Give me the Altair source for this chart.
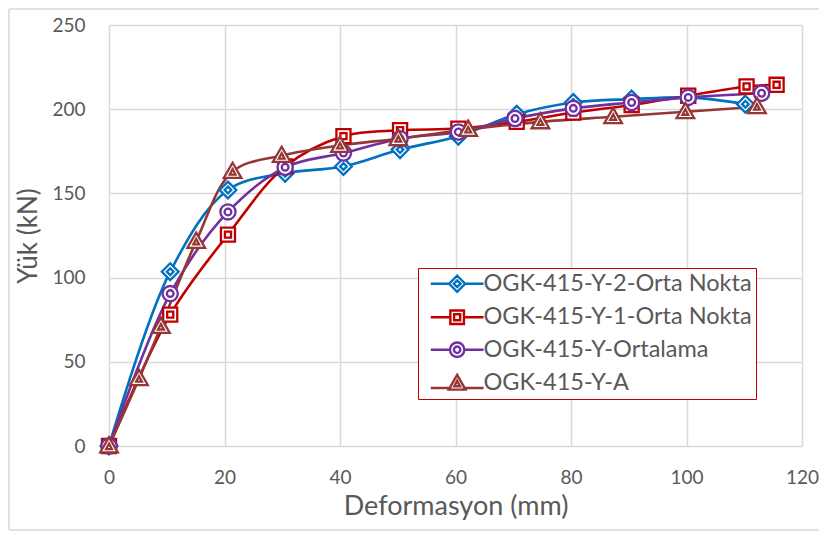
import altair as alt
import pandas as pd

# ---- data ----
series_names = ["OGK-415-Y-2-Orta Nokta", "OGK-415-Y-1-Orta Nokta",
                "OGK-415-Y-Ortalama", "OGK-415-Y-A"]
colors = ["#0070C0", "#C00000", "#7030A0", "#953735"]

blue_x = [0, 10.6, 20.6, 30.5, 40.6, 50.4, 60.5, 70.6, 80.4, 90.5, 100.3, 110.2]
blue_y = [0, 103.5, 152, 162, 166, 176, 184, 197, 204, 206, 207, 203]

red_x = [0, 10.6, 20.6, 30.5, 40.6, 50.4, 60.5, 70.6, 80.4, 90.5, 100.3, 110.4, 115.6]
red_y = [0, 78, 125.5, 166, 184, 187.5, 188.5, 192.5, 198, 202.5, 208, 213.5, 214.5]

purple_x = [0, 10.6, 20.6, 30.5, 40.6, 50.4, 60.5, 70.3, 80.4, 90.5, 100.3, 113.0]
purple_y = [0, 90.5, 139, 165.5, 174, 182.5, 186.5, 194.5, 200.5, 204, 207, 209.5]

brown_x = [0, 5.2, 9.0, 15.1, 21.4, 29.9, 40.0, 50.1, 62.2, 74.7, 87.3, 99.8, 112.2]
brown_y = [0, 40, 71, 121.5, 163, 172.5, 178.5, 182.5, 188, 192.5, 195.5, 198.5, 201.5]

xs = [blue_x, red_x, purple_x, brown_x]
ys = [blue_y, red_y, purple_y, brown_y]

x_ticks = [0, 20, 40, 60, 80, 100, 120]
y_ticks = [0, 50, 100, 150, 200, 250]

# marker shapes (outer + inner outline)
marker_paths = [
    "M0,-1.05L1.05,0L0,1.05L-1.05,0Z M0,-0.42L0.42,0L0,0.42L-0.42,0Z",
    "M-0.88,-0.88H0.88V0.88H-0.88Z M-0.38,-0.38H0.38V0.38H-0.38Z",
    "M-0.95,0A0.95,0.95 0 1,0 0.95,0A0.95,0.95 0 1,0 -0.95,0Z M-0.42,0A0.42,0.42 0 1,0 0.42,0A0.42,0.42 0 1,0 -0.42,0Z",
    "M0,-1.1L1.1,0.8L-1.1,0.8Z M0,-0.3L0.36,0.38L-0.36,0.38Z",
]

# legend symbols: line segment + marker centered at u=2.3
legend_paths = [
    "M-1,0L1.3,0 M3.3,0L5.6,0 M2.3,-1L3.3,0L2.3,1L1.3,0Z M2.3,-0.42L2.72,0L2.3,0.42L1.88,0Z",
    "M-1,0L1.45,0 M3.15,0L5.6,0 M1.45,-0.85H3.15V0.85H1.45Z M1.92,-0.38H2.68V0.38H1.92Z",
    "M-1,0L1.4,0 M3.2,0L5.6,0 M1.4,0A0.9,0.9 0 1,0 3.2,0A0.9,0.9 0 1,0 1.4,0Z M1.9,0A0.4,0.4 0 1,0 2.7,0A0.4,0.4 0 1,0 1.9,0Z",
    "M-1,0.6L1.6,0.6 M3.0,0.6L5.6,0.6 M2.3,-1.05L3.35,0.8L1.25,0.8Z M2.3,-0.3L2.66,0.38L1.94,0.38Z",
]

FONT = "Lato"
TXT = "#595959"

x_scale = alt.Scale(domain=[0, 120], nice=False)
y_scale = alt.Scale(domain=[0, 250], nice=False)

x_axis = alt.Axis(values=x_ticks, title="Deformasyon (mm)",
                  grid=True, gridColor="#D9D9D9", gridWidth=1.5, domain=False, ticks=False,
                  labelFlush=False,
                  labelFont=FONT, labelFontSize=19, labelColor=TXT, labelPadding=22,
                  titleFont=FONT, titleFontSize=27, titleFontWeight="normal", titleColor=TXT,
                  titlePadding=6)
y_axis = alt.Axis(values=y_ticks, title="Yük (kN)",
                  grid=True, gridColor="#D9D9D9", gridWidth=1.5, domain=False, ticks=False,
                  labelFlush=False,
                  labelFont=FONT, labelFontSize=19, labelColor=TXT, labelPadding=24,
                  titleFont=FONT, titleFontSize=26, titleFontWeight="normal", titleColor=TXT,
                  titlePadding=10)

X = lambda: alt.X("x:Q", scale=x_scale, axis=x_axis)
Y = lambda: alt.Y("y:Q", scale=y_scale, axis=y_axis)

layers = []

# chart-area frame (decoration): edges kept inside the drawable area
one = pd.DataFrame({"a": [0]})
FR = dict(stroke="#D9D9D9", strokeWidth=1.5)
layers.append(alt.Chart(one).mark_rule(**FR).encode(x=alt.value(-100), x2=alt.value(720), y=alt.value(-16)))
layers.append(alt.Chart(one).mark_rule(**FR).encode(x=alt.value(-100), x2=alt.value(720), y=alt.value(505)))
layers.append(alt.Chart(one).mark_rule(**FR).encode(x=alt.value(-100), y=alt.value(-16), y2=alt.value(505)))

for i in range(4):
    df = pd.DataFrame({"x": xs[i], "y": ys[i], "order": list(range(len(xs[i])))})
    line = alt.Chart(df).mark_line(color=colors[i], strokeWidth=2.6, interpolate="catmull-rom").encode(
        x=X(), y=Y(), order="order:Q",
    )
    layers.append(line)

for i in range(4):
    df = pd.DataFrame({"x": xs[i], "y": ys[i]})
    pts = alt.Chart(df).mark_point(shape=marker_paths[i], size=256, filled=False, fill="white",
                                   fillOpacity=1, stroke=colors[i], strokeWidth=2.3, opacity=1).encode(
        x=X(), y=Y(),
    )
    layers.append(pts)

# legend-only layer
leg_df = pd.DataFrame({"series": series_names, "x": [0] * 4, "y": [0] * 4})
legend_layer = alt.Chart(leg_df).mark_point(filled=False, fill="white", fillOpacity=1,
                                            strokeWidth=2.4, size=256, opacity=1).encode(
    x=X(), y=Y(),
    color=alt.Color("series:N", scale=alt.Scale(domain=series_names, range=colors),
                    legend=alt.Legend(title=None, orient="none", legendX=309, legendY=243,
                                      strokeColor="#C00000", fillColor="white", padding=4,
                                      symbolOffset=5,
                                      labelFont=FONT, labelFontSize=23.5, labelColor=TXT,
                                      labelOffset=33, rowPadding=7.5, symbolSize=256,
                                      symbolStrokeWidth=2.4, symbolFillColor="white",
                                      labelLimit=400)),
    shape=alt.Shape("series:N", scale=alt.Scale(domain=series_names, range=legend_paths)),
).transform_filter("false")
layers.append(legend_layer)

chart = alt.layer(*layers).properties(
    width=693, height=421,
    autosize=alt.AutoSizeParams(type="none"),
    padding={"left": 101, "top": 17, "right": 17, "bottom": 90},
).configure_view(stroke=None)

chart.save("out.html", embed_options={"renderer": "svg", "actions": False})
